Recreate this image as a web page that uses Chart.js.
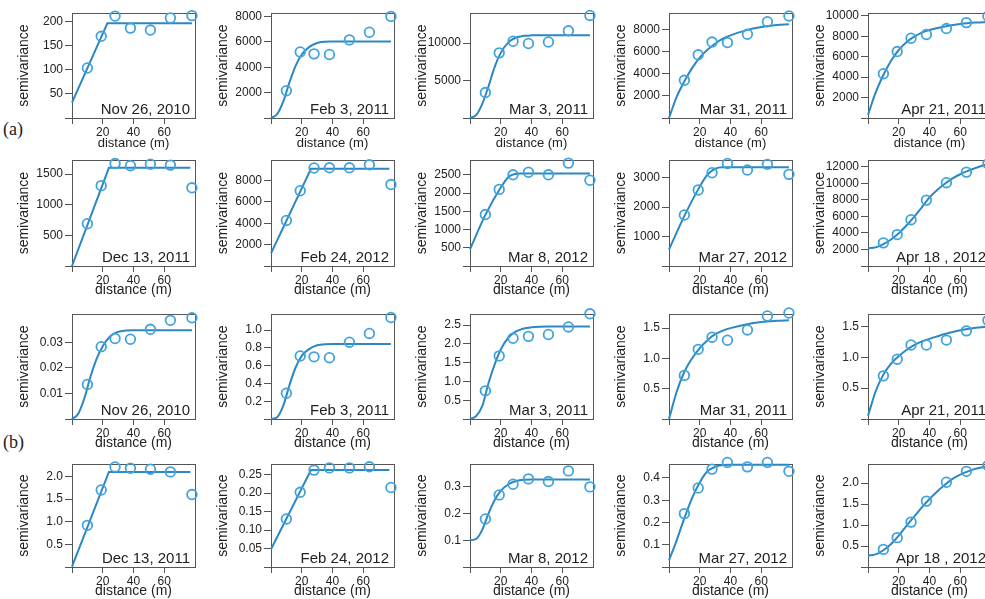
<!DOCTYPE html>
<html>
<head>
<meta charset="utf-8">
<script src="https://cdn.jsdelivr.net/npm/chart.js@4.4.0/dist/chart.umd.min.js"></script>
<style>
body { margin: 0; width: 985px; height: 599px; overflow: hidden; background: #fff; position: relative; }
canvas { position: absolute; }
.tag { position: absolute; font-family: 'Liberation Serif', 'Times New Roman', serif; font-size: 18px; color: #222; }
</style>
</head>
<body>
<div class="tag" style="left:3px;top:119px">(a)</div>
<div class="tag" style="left:3px;top:432px">(b)</div>
<script>
// lag distances of the empirical semivariance points
const lags = [10, 19, 28, 38, 51, 64, 78];
const xTickVals = [0, 20, 40, 60];
// x grids for the fitted model curves
const gaussX = [0, 4, 8, 12, 16, 20, 25, 30, 35, 40, 50, 60, 70, 78];
const expX = [0, 5, 10, 15, 20, 25, 30, 35, 40, 50, 60, 70, 78];
const longX = [0, 5, 10, 15, 20, 25, 30, 35, 40, 45, 50, 55, 60, 65, 70, 78];

const dates1 = ['Nov 26, 2010', 'Feb 3, 2011', 'Mar 3, 2011', 'Mar 31, 2011', 'Apr 21, 2011'];
const dates2 = ['Dec 13, 2011', 'Feb 24, 2012', 'Mar 8, 2012', 'Mar 27, 2012', 'Apr 18 , 2012'];

// ---- (a) ----
const nov26a = [104, 170, 212, 187, 183, 208, 213];
const nov26aFitX = [0, 23, 78];
const nov26aFit = [32, 197, 197];
const nov26aTicks = ['50', '100', '150', '200'];

const feb3a = [2150, 5200, 5050, 5000, 6150, 6750, 8000];
const feb3aFit = [0, 300, 1300, 2800, 4100, 5000, 5600, 5900, 6000, 6020, 6030, 6030, 6030, 6030];
const feb3aTicks = ['2000', '4000', '6000', '8000'];

const mar3a = [3400, 8700, 10250, 9950, 10150, 11650, 13700];
const mar3aFit = [0, 400, 1900, 4200, 6800, 8700, 10100, 10750, 10980, 11040, 11060, 11060, 11060, 11060];
const mar3aTicks = ['5000', '10000'];

const mar31a = [3400, 5700, 6850, 6800, 7550, 8680, 9200];
const mar31aFit = [0, 1900, 3300, 4500, 5450, 6150, 6700, 7150, 7450, 7900, 8200, 8380, 8450];
const mar31aTicks = ['2000', '4000', '6000', '8000'];

const apr21a = [4330, 6500, 7800, 8170, 8750, 9330, 9950];
const apr21aFit = [300, 2500, 4200, 5600, 6650, 7400, 7950, 8350, 8600, 8950, 9200, 9330, 9380];
const apr21aTicks = ['2000', '4000', '6000', '8000', '10000'];

const dec13a = [690, 1310, 1670, 1635, 1660, 1645, 1275];
const dec13aFitX = [0, 24, 77];
const dec13aFit = [0, 1600, 1600];
const dec13aTicks = ['500', '1000', '1500'];

const feb24a = [4260, 7040, 9170, 9190, 9190, 9470, 7620];
const feb24aFitX = [0, 26, 77];
const feb24aFit = [1180, 9100, 9100];
const feb24aTicks = ['2000', '4000', '6000', '8000'];

const mar8a = [1410, 2100, 2500, 2570, 2500, 2820, 2350];
const mar8aFitX = [0, 10, 20, 25, 29, 33, 78];
const mar8aFit = [460, 1400, 2150, 2440, 2520, 2535, 2535];
const mar8aTicks = ['500', '1000', '1500', '2000', '2500'];

const mar27a = [1730, 2580, 3165, 3480, 3255, 3450, 3110];
const mar27aFitX = [0, 10, 19, 25, 30, 35, 78];
const mar27aFit = [560, 1700, 2600, 3100, 3300, 3350, 3350];
const mar27aTicks = ['1000', '2000', '3000'];

const apr18a = [2800, 3800, 5600, 7970, 10080, 11360, 12360];
const apr18aFit = [2150, 2250, 2650, 3200, 3950, 4900, 5950, 7100, 8300, 9200, 9950, 10600, 11100, 11500, 11850, 12350];
const apr18aTicks = ['2000', '4000', '6000', '8000', '10000', '12000'];

// ---- (b) ----
const nov26b = [0.0135, 0.0283, 0.0315, 0.0312, 0.0351, 0.0386, 0.0396];
const nov26bFit = [0, 0.002, 0.008, 0.0165, 0.0235, 0.0285, 0.0325, 0.0341, 0.0346, 0.0347, 0.0347, 0.0347, 0.0347, 0.0347];
const nov26bTicks = ['0.01', '0.02', '0.03'];

const feb3b = [0.29, 0.71, 0.70, 0.69, 0.865, 0.963, 1.143];
const feb3bFit = [0, 0.02, 0.15, 0.38, 0.58, 0.71, 0.79, 0.83, 0.843, 0.845, 0.845, 0.845, 0.845, 0.845];
const feb3bTicks = ['0.2', '0.4', '0.6', '0.8', '1.0'];

const mar3b = [0.75, 1.68, 2.15, 2.2, 2.25, 2.45, 2.8];
const mar3bFit = [0, 0.08, 0.35, 0.95, 1.45, 1.85, 2.17, 2.33, 2.41, 2.44, 2.46, 2.46, 2.46, 2.46];
const mar3bTicks = ['0.5', '1.0', '1.5', '2.0', '2.5'];

const mar31b = [0.72, 1.15, 1.35, 1.3, 1.47, 1.7, 1.75];
const mar31bFit = [0, 0.45, 0.78, 1.0, 1.17, 1.3, 1.4, 1.46, 1.5, 1.56, 1.6, 1.62, 1.63];
const mar31bTicks = ['0.5', '1.0', '1.5'];

const apr21b = [0.7, 0.97, 1.2, 1.2, 1.28, 1.43, 1.6];
const apr21bFit = [0.05, 0.45, 0.72, 0.9, 1.02, 1.12, 1.2, 1.26, 1.3, 1.38, 1.44, 1.48, 1.5];
const apr21bTicks = ['0.5', '1.0', '1.5'];

const dec13b = [0.92, 1.7, 2.21, 2.18, 2.16, 2.1, 1.6];
const dec13bFitX = [0, 24, 77];
const dec13bFit = [0.01, 2.1, 2.1];
const dec13bTicks = ['0.5', '1.0', '1.5', '2.0'];

const feb24b = [0.13, 0.202, 0.262, 0.268, 0.268, 0.271, 0.215];
const feb24bFitX = [0, 26, 77];
const feb24bFit = [0.048, 0.262, 0.262];
const feb24bTicks = ['0.05', '0.10', '0.15', '0.20', '0.25'];

const mar8b = [0.18, 0.27, 0.31, 0.33, 0.32, 0.36, 0.30];
const mar8bFit = [0.1, 0.105, 0.14, 0.2, 0.25, 0.285, 0.31, 0.322, 0.327, 0.328, 0.328, 0.328, 0.328, 0.328];
const mar8bTicks = ['0.1', '0.2', '0.3'];

const mar27b = [0.24, 0.355, 0.44, 0.47, 0.45, 0.47, 0.43];
const mar27bFitX = [0, 5, 10, 15, 20, 25, 30, 35, 40, 78];
const mar27bFit = [0.03, 0.12, 0.22, 0.31, 0.38, 0.43, 0.45, 0.458, 0.46, 0.46];
const mar27bTicks = ['0.1', '0.2', '0.3', '0.4'];

const apr18b = [0.42, 0.7, 1.07, 1.57, 2.02, 2.28, 2.42];
const apr18bFit = [0.27, 0.3, 0.4, 0.55, 0.75, 0.98, 1.2, 1.42, 1.62, 1.8, 1.96, 2.1, 2.2, 2.28, 2.34, 2.4];
const apr18bTicks = ['0.5', '1.0', '1.5', '2.0'];

const panels = [
  { pts: nov26a, fitX: nov26aFitX, fit: nov26aFit, ticks: nov26aTicks, max: 218, date: dates1[0] },
  { pts: feb3a, fitX: gaussX, fit: feb3aFit, ticks: feb3aTicks, max: 8250, date: dates1[1] },
  { pts: mar3a, fitX: gaussX, fit: mar3aFit, ticks: mar3aTicks, max: 14000, date: dates1[2] },
  { pts: mar31a, fitX: expX, fit: mar31aFit, ticks: mar31aTicks, max: 9450, date: dates1[3] },
  { pts: apr21a, fitX: expX, fit: apr21aFit, ticks: apr21aTicks, max: 10250, date: dates1[4] },
  { pts: dec13a, fitX: dec13aFitX, fit: dec13aFit, ticks: dec13aTicks, max: 1725, date: dates2[0] },
  { pts: feb24a, fitX: feb24aFitX, fit: feb24aFit, ticks: feb24aTicks, max: 9900, date: dates2[1] },
  { pts: mar8a, fitX: mar8aFitX, fit: mar8aFit, ticks: mar8aTicks, max: 2900, date: dates2[2] },
  { pts: mar27a, fitX: mar27aFitX, fit: mar27aFit, ticks: mar27aTicks, max: 3590, date: dates2[3] },
  { pts: apr18a, fitX: longX, fit: apr18aFit, ticks: apr18aTicks, max: 12800, date: dates2[4] },
  { pts: nov26b, fitX: gaussX, fit: nov26bFit, ticks: nov26bTicks, max: 0.041, date: dates1[0] },
  { pts: feb3b, fitX: gaussX, fit: feb3bFit, ticks: feb3bTicks, max: 1.18, date: dates1[1] },
  { pts: mar3b, fitX: gaussX, fit: mar3bFit, ticks: mar3bTicks, max: 2.79, date: dates1[2] },
  { pts: mar31b, fitX: expX, fit: mar31bFit, ticks: mar31bTicks, max: 1.73, date: dates1[3] },
  { pts: apr21b, fitX: expX, fit: apr21bFit, ticks: apr21bTicks, max: 1.7, date: dates1[4] },
  { pts: dec13b, fitX: dec13bFitX, fit: dec13bFit, ticks: dec13bTicks, max: 2.27, date: dates2[0] },
  { pts: feb24b, fitX: feb24bFitX, fit: feb24bFit, ticks: feb24bTicks, max: 0.278, date: dates2[1] },
  { pts: mar8b, fitX: gaussX, fit: mar8bFit, ticks: mar8bTicks, max: 0.385, date: dates2[2] },
  { pts: mar27b, fitX: mar27bFitX, fit: mar27bFit, ticks: mar27bTicks, max: 0.462, date: dates2[3] },
  { pts: apr18b, fitX: longX, fit: apr18bFit, ticks: apr18bTicks, max: 2.45, date: dates2[4] },
];

// layout of the grid
const plotLefts = [72, 271, 470, 669, 868];
const plotTops = [12, 159, 313, 463];
const plotHeights = [106, 107, 106, 104];
const plotW = 123;
const yAxisW = 62;
const xAxisH = 33;
const padTop = 8;
const padRight = 8;

const lineColor = '#2c87c2';
const markerColor = '#41a3dc';
const axisColor = '#555';
const textColor = '#222';

Chart.defaults.font.family = "'Liberation Sans', Arial, sans-serif";
Chart.defaults.color = textColor;

const framePlugin = {
  id: 'frame',
  beforeDatasetsDraw(chart, args, opts) {
    const ctx = chart.ctx;
    const a = chart.chartArea;
    ctx.save();
    ctx.strokeStyle = axisColor;
    ctx.lineWidth = 1;
    ctx.strokeRect(Math.round(a.left) + 0.5, Math.round(a.top) + 0.5,
      Math.round(a.right - a.left), Math.round(a.bottom - a.top));
    ctx.font = "15px 'Liberation Sans', Arial, sans-serif";
    ctx.fillStyle = textColor;
    ctx.textAlign = 'right';
    ctx.textBaseline = 'alphabetic';
    ctx.fillText(opts.date, a.right - 5, a.bottom - 4);
    ctx.restore();
  }
};

function makePanel(p, i) {
  let row = Math.floor(i / 5);
  let col = i % 5;
  let h = plotHeights[row];
  let canvas = document.createElement('canvas');
  canvas.width = yAxisW + plotW + padRight;
  canvas.height = padTop + h + xAxisH;
  canvas.style.left = (plotLefts[col] - yAxisW) + 'px';
  canvas.style.top = (plotTops[row] - padTop) + 'px';
  document.body.appendChild(canvas);

  let yVals = [0].concat(p.ticks.map(t => parseFloat(t)));
  let smooth = p.fitX.length > 3;

  new Chart(canvas, {
    type: 'scatter',
    data: {
      datasets: [{
        data: p.fitX.map((x, k) => ({ x: x, y: p.fit[k] })),
        showLine: true,
        borderColor: lineColor,
        borderWidth: 2,
        pointRadius: 0,
        tension: smooth ? 0.4 : 0,
        cubicInterpolationMode: smooth ? 'monotone' : 'default',
        clip: false,
        order: 2
      }, {
        data: lags.map((x, k) => ({ x: x, y: p.pts[k] })),
        showLine: false,
        pointRadius: 4.8,
        pointBorderWidth: 1.8,
        pointBorderColor: markerColor,
        pointBackgroundColor: 'rgba(0,0,0,0)',
        clip: false,
        order: 1
      }]
    },
    options: {
      responsive: false,
      animation: false,
      events: [],
      layout: { padding: { top: padTop, right: padRight, left: 0, bottom: 0 } },
      plugins: {
        legend: { display: false },
        tooltip: { enabled: false },
        frame: { date: p.date }
      },
      scales: {
        x: {
          type: 'linear', min: 0, max: 80,
          afterBuildTicks: s => { s.ticks = xTickVals.map(v => ({ value: v })); },
          afterFit: s => { s.height = xAxisH; },
          ticks: {
            callback: v => v === 0 ? '' : String(v),
            padding: 1, maxRotation: 0, autoSkip: false,
            font: { size: 12 }, color: textColor
          },
          grid: { drawOnChartArea: false, drawTicks: true, tickLength: 6, color: axisColor },
          border: { display: false },
          title: {
            display: true, text: 'distance (m)', color: textColor,
            font: { size: row === 0 ? 13 : 14, lineHeight: 1.2 }, padding: 0
          }
        },
        y: {
          type: 'linear', min: 0, max: p.max,
          afterBuildTicks: s => { s.ticks = yVals.map(v => ({ value: v })); },
          afterFit: s => { s.width = yAxisW; },
          ticks: {
            callback: (v, k) => k === 0 ? '' : p.ticks[k - 1],
            padding: 2, autoSkip: false,
            font: { size: 12 }, color: textColor
          },
          grid: { drawOnChartArea: false, drawTicks: true, tickLength: 7, color: axisColor },
          border: { display: false },
          title: {
            display: true, text: 'semivariance', color: textColor,
            font: { size: 14, lineHeight: 1.2 }, padding: { top: 6, bottom: 0 }
          }
        }
      }
    },
    plugins: [framePlugin]
  });
}

panels.forEach(makePanel);
</script>
</body>
</html>
